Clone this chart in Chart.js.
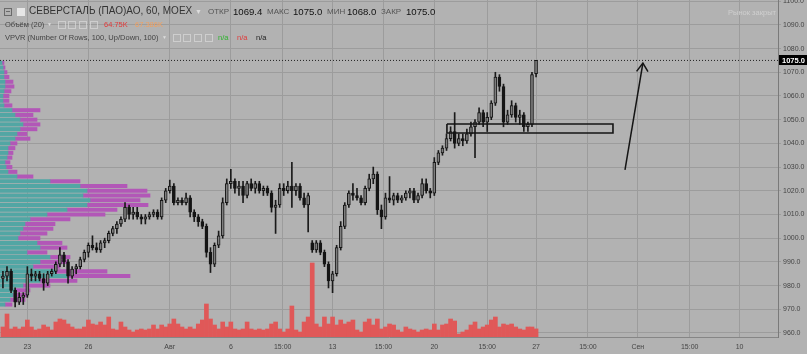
<!DOCTYPE html>
<html><head><meta charset="utf-8">
<script src="https://cdn.jsdelivr.net/npm/chart.js@4.4.1/dist/chart.umd.min.js"></script>
<style>
html,body{margin:0;padding:0;background:#b2b2b2;}
#wrap{position:relative;width:807px;height:354px;overflow:hidden;font-family:'Liberation Sans',Arial,sans-serif;}
canvas{position:absolute;left:0;top:0;}
.t{position:absolute;white-space:nowrap;line-height:1;}
.ico{position:absolute;width:8px;height:8px;border:1px solid rgba(215,215,215,0.75);box-sizing:border-box;}
</style></head><body>
<div id="wrap">
<canvas id="c" width="807" height="354"></canvas>
<div class="ico" style="left:4px;top:8px;border-color:#6a6a6a;"></div>
<div style="position:absolute;left:6px;top:11px;width:4px;height:1px;background:#6a6a6a;"></div>
<div style="position:absolute;left:17px;top:8px;width:8px;height:8px;background:#e6e6e6;"></div>
<div class="t" style="left:29px;top:6px;font-size:10px;color:#333;">СЕВЕРСТАЛЬ (ПАО)АО, 60, MOEX</div>
<div class="t" style="left:195px;top:8px;font-size:7px;color:#dcdcdc;">▼</div>
<div class="t" style="left:208px;top:8px;font-size:8px;color:#555;">ОТКР</div>
<div class="t" style="left:233px;top:7px;font-size:9.6px;color:#111;">1069.4</div>
<div class="t" style="left:267px;top:8px;font-size:8px;color:#555;">МАКС</div>
<div class="t" style="left:293px;top:7px;font-size:9.6px;color:#111;">1075.0</div>
<div class="t" style="left:327px;top:8px;font-size:8px;color:#555;">МИН</div>
<div class="t" style="left:347px;top:7px;font-size:9.6px;color:#111;">1068.0</div>
<div class="t" style="left:381px;top:8px;font-size:8px;color:#555;">ЗАКР</div>
<div class="t" style="left:406px;top:7px;font-size:9.6px;color:#111;">1075.0</div>

<div class="t" style="left:5px;top:21px;font-size:7.5px;color:#444;">Объём (20)</div>
<div class="t" style="left:47px;top:22px;font-size:5px;color:#dcdcdc;">▼</div>
<div class="ico" style="left:58px;top:21px;"></div>
<div class="ico" style="left:68px;top:21px;"></div>
<div class="ico" style="left:79px;top:21px;"></div>
<div class="ico" style="left:90px;top:21px;"></div>
<div class="t" style="left:104px;top:21px;font-size:7.5px;color:#e03a3a;">64.75K</div>
<div class="t" style="left:135px;top:21px;font-size:7.5px;color:#f0a060;">67.386K</div>

<div class="t" style="left:5px;top:34px;font-size:7.5px;color:#444;">VPVR (Number Of Rows, 100, Up/Down, 100)</div>
<div class="t" style="left:162px;top:35px;font-size:5px;color:#dcdcdc;">▼</div>
<div class="ico" style="left:173px;top:34px;"></div>
<div class="ico" style="left:183px;top:34px;"></div>
<div class="ico" style="left:194px;top:34px;"></div>
<div class="ico" style="left:205px;top:34px;"></div>
<div class="t" style="left:218px;top:34px;font-size:7.5px;color:#2fb52f;">n/a</div>
<div class="t" style="left:237px;top:34px;font-size:7.5px;color:#e03a3a;">n/a</div>
<div class="t" style="left:256px;top:34px;font-size:7.5px;color:#222;">n/a</div>

<div class="t" style="left:728px;top:9px;font-size:7.5px;color:#cfcfcf;">Рынок закрыт</div>
</div>
<script>
// ---- time axis ----
const barsPerDay = 5;
const firstBarDay = -0.2;           // day index of the first bar (Jul 20 = 0)
const xMin = -0.344, xMax = 37.89;  // visible day range
const xTickPos = [1, 4, 8, 11, 13.55, 16, 18.5, 21, 23.6, 26, 28.55, 31, 33.55, 36];
const xTickLabels = ['23','26','Авг','6','15:00','13','15:00','20','15:00','27','15:00','Сен','15:00','10'];

// ---- price axis ----
const yMin = 958.3, yMax = 1100.5;
const yTicks = [960,970,980,990,1000,1010,1020,1030,1040,1050,1060,1070,1080,1090,1100];

// ---- hourly candles ----
const opens = [983,984,986,978,973,975,976,985,984,985, 983,981,985,986,989,993,990,984,987,988,
  991,994,997,996,995,998,999,1002,1004,1006, 1008,1013,1010,1011,1009,1008,1009,1010,1011,1009,
  1016,1020,1022,1015,1016,1015,1017,1011,1009,1007, 1005,994,989,997,1001,1015,1023,1024,1021,1022,
  1018,1023,1021,1023,1020,1021,1019,1013,1014,1021, 1020,1022,1020,1022,1017,1014,998,995,998,994,
  989,982,985,996,1005,1014,1019,1018,1017,1015, 1021,1025,1027,1012,1009,1017,1016,1018,1016,1017,
  1019,1020,1016,1018,1023,1020,1019,1032,1036,1038, 1042,1045,1040,1042,1041,1044,1047,1049,1053,1049,
  1051,1057,1068,1064,1049,1052,1056,1051,1052,1047, 1048,1069.4];
const highs = [986,988,987,979,977,977,988,987,986,986, 985,986,987,990,996,994,991,988,989,992,
  995,998,1001,998,999,1000,1003,1005,1007,1009, 1015,1014,1013,1013,1010,1010,1011,1012,1012,1017,
  1021,1024.5,1023,1017,1017,1019,1018,1012,1010,1008, 1006,996,998,1003,1017,1025,1029,1025,1024,1024,
  1024,1025,1024,1024,1022,1022,1020,1016,1023,1023, 1024,1032,1023,1023,1019,1019,999,999,999,995,
  990,986,997,1007,1015,1020,1023,1021,1018,1022, 1027,1030,1028,1014,1019,1026,1019,1019,1018,1020,
  1021,1021,1019,1025,1025,1021,1034,1037,1039,1044, 1047,1053,1044,1044,1046,1049,1050,1055,1054,1053,
  1058,1070,1069,1065,1054,1058,1057,1054,1053,1049, 1070,1075];
const lows = [979,982,977,971,972,972,975,982,982,982, 978,980,984,985,988,988,981,983,985,987,
  990,992,995,994,994,996,998,1001,1002,1005, 1007,1008,1008,1008,1006,1006,1008,1009,1008,1008,
  1015,1019,1014,1014,1014,1014,1009,1007,1005,1004, 992,985.5,988,996,1000,1014,1021,1019,1018,1015,
  1017,1020,1019,1019,1018,1018,1011,1002,1013,1018, 1019,1013,1018,1016,1013,1002.6,994,994,993,988,
  979,977,984,995,1004,1013,1016,1016,1014,1014, 1020,1023,1010,1004,1008,1015,1014,1015,1015,1016,
  1017,1015,1015,1017,1019,1017,1018,1031,1035,1037, 1041,1038,1039,1039,1040,1043,1034,1048,1047,1045,
  1050,1056,1062,1047,1048,1051,1049,1048,1045,1045, 1047,1068];
const closes = [984,986,978,973,975,976,985,984,985,983, 981,985,986,989,993,990,984,987,988,991,
  994,997,996,995,998,999,1002,1004,1006,1008, 1013,1010,1011,1009,1008,1009,1010,1011,1009,1016,
  1020,1022,1015,1016,1015,1017,1011,1009,1007,1005, 994,989,997,1001,1015,1023,1024,1021,1022,1018,
  1023,1021,1023,1020,1021,1019,1013,1014,1021,1020, 1022,1020,1022,1017,1014,1018,995,998,994,989,
  982,985,996,1005,1014,1019,1018,1017,1015,1021, 1025,1027,1012,1009,1017,1016,1018,1016,1017,1019,
  1020,1016,1018,1023,1020,1019,1032,1036,1038,1042, 1045,1040,1042,1041,1044,1047,1049,1053,1049,1051,
  1057,1068,1064,1049,1052,1056,1051,1052,1047,1048, 1069,1075];
// volume, thousands
const volumes = [80,184,64,80,64,80,136,80,56,64, 96,80,56,120,144,136,104,80,64,64,
  80,136,104,96,120,96,160,64,56,120, 80,56,40,56,64,56,64,96,64,96,
  80,104,144,104,80,64,80,64,104,136, 264,144,96,64,120,80,120,64,56,64,
  120,64,56,64,56,64,104,120,64,40, 64,248,56,40,120,160,592,104,80,160,
  104,160,96,136,104,120,136,56,40,120, 144,96,144,64,80,104,96,56,40,80,
  64,56,40,56,64,56,104,56,96,104, 144,128,24,40,56,96,120,64,80,96,
  136,160,80,104,96,104,80,64,56,80, 80,64.75];
const volAxisMax = 2696;

// ---- VPVR profile (price rows, up / down volume) ----
const vpvrPrice = [1074,1072,1070,1068,1066,1064,1062,1060,1058,1056,1054,1052,1050,1048,1046,1044,1042,1040,1038,1036,
  1034,1032,1030,1028,1026,1024,1022,1020,1018,1016,1014,1012,1010,1008,1006,1004,1002,1000,998,996,
  994,992,990,988,986,984,982,980,978,976,974,972];
const vpvrUp = [2,3,4,4,5,5,4,3,3,4,12,15,20,23,20,17,15,10,8,8,
  7,5,6,8,17,50,80,87,83,90,87,67,47,30,25,23,20,18,37,40,
  27,50,40,33,55,67,40,23,15,13,10,5];
const vpvrDown = [2,2,3,5,8,9,7,6,6,8,28,18,17,17,17,10,15,7,7,5,
  5,5,6,9,16,30,47,60,67,50,61,50,58,40,30,30,27,22,25,27,
  20,20,27,27,52,63,37,27,15,14,15,7];
const vpvrAxisMax = 778;

// ---- drawings ----
const boxPts = [[21.62,1048.2],[29.78,1048.2],[29.78,1044.4],[21.62,1044.4],[21.62,1048.2]];
const arrowShaft = [[30.37,1028.8],[31.25,1073.9]];
const arrowHead = [[30.94,1070.4],[31.25,1073.9],[31.5,1070.3]];
const lastPrice = closes[closes.length - 1];

const barX = opens.map((_, i) => firstBarDay + i / barsPerDay);
const pts = a => a.map(p => ({x: p[0], y: p[1]}));

const bgPlugin = {
  id: 'bg',
  beforeDraw(chart) {
    const ctx = chart.ctx;
    ctx.save(); ctx.fillStyle = '#b2b2b2'; ctx.fillRect(0, 0, chart.width, chart.height); ctx.restore();
  },
  afterDraw(chart) {
    const ctx = chart.ctx, y = chart.scales.y.getPixelForValue(lastPrice);
    const left = chart.chartArea.right + 1;
    ctx.save();
    ctx.fillStyle = '#000';
    ctx.fillRect(left, Math.round(y) - 5, chart.width - left, 10);
    ctx.fillStyle = '#fff';
    ctx.font = 'bold 7.5px "Liberation Sans", Arial, sans-serif';
    ctx.textBaseline = 'middle';
    ctx.fillText(lastPrice.toFixed(1), left + 3, Math.round(y) + 0.5);
    ctx.restore();
  }
};

Chart.defaults.font.family = '"Liberation Sans", Arial, sans-serif';
Chart.defaults.font.size = 7;
Chart.defaults.color = '#454545';

new Chart(document.getElementById('c'), {
  type: 'bar',
  data: {
    datasets: [
      { label: 'vpvrDown', indexAxis: 'y', xAxisID: 'xv', yAxisID: 'y', grouped: false, order: 10,
        data: vpvrPrice.map((p, k) => ({y: p, x: [vpvrUp[k], vpvrUp[k] + vpvrDown[k]]})),
        backgroundColor: '#b257b7', barThickness: 3.4 },
      { label: 'vpvrUp', indexAxis: 'y', xAxisID: 'xv', yAxisID: 'y', grouped: false, order: 9,
        data: vpvrPrice.map((p, k) => ({y: p, x: [0, vpvrUp[k]]})),
        backgroundColor: '#52a6a4', barThickness: 3.4 },
      { label: 'volume', xAxisID: 'x', yAxisID: 'yv', grouped: false, order: 8,
        data: barX.map((t, i) => ({x: t, y: volumes[i]})),
        backgroundColor: '#e05858', barThickness: 4 },
      { label: 'wicks', xAxisID: 'x', yAxisID: 'y', grouped: false, order: 7,
        data: barX.map((t, i) => ({x: t, y: [lows[i], highs[i]]})),
        backgroundColor: '#1a1a1a', barThickness: 1 },
      { label: 'bodies', xAxisID: 'x', yAxisID: 'y', grouped: false, order: 6,
        data: barX.map((t, i) => ({x: t, y: [opens[i], closes[i]]})),
        backgroundColor: opens.map((o, i) => closes[i] >= o ? '#7e7e7e' : '#151515'),
        borderColor: '#151515', borderWidth: 1, borderSkipped: false, barThickness: 3, minBarLength: 1 },
      { type: 'line', label: 'box', xAxisID: 'x', yAxisID: 'y', order: 2, data: pts(boxPts),
        borderColor: '#141414', borderWidth: 1.6, pointRadius: 0, fill: false, tension: 0 },
      { type: 'line', label: 'arrow', xAxisID: 'x', yAxisID: 'y', order: 2, data: pts(arrowShaft),
        borderColor: '#141414', borderWidth: 1.5, pointRadius: 0, fill: false, tension: 0 },
      { type: 'line', label: 'arrowHead', xAxisID: 'x', yAxisID: 'y', order: 2, data: pts(arrowHead),
        borderColor: '#141414', borderWidth: 1.5, pointRadius: 0, fill: false, tension: 0 },
      { type: 'line', label: 'last', xAxisID: 'x', yAxisID: 'y', order: 1,
        data: [{x: xMin, y: lastPrice}, {x: xMax, y: lastPrice}],
        borderColor: '#222', borderWidth: 1, borderDash: [1, 2], pointRadius: 0, fill: false }
    ]
  },
  options: {
    responsive: false, animation: false, devicePixelRatio: 1,
    layout: { padding: 0 },
    plugins: { legend: { display: false }, tooltip: { enabled: false } },
    scales: {
      x: { type: 'linear', position: 'bottom', min: xMin, max: xMax, offset: false,
        afterBuildTicks: s => { s.ticks = xTickPos.map(v => ({value: v})); },
        afterFit: s => { s.height = 17; s.paddingLeft = 0; s.paddingRight = 0; },
        ticks: { autoSkip: false, maxRotation: 0, padding: 6, color: '#454545',
          callback: (v, i) => xTickLabels[i] },
        grid: { color: '#9c9c9c', drawTicks: false, offset: false },
        border: { display: true, color: '#868686' } },
      y: { type: 'linear', position: 'right', min: yMin, max: yMax, offset: false,
        afterBuildTicks: s => { s.ticks = yTicks.map(v => ({value: v})); },
        afterFit: s => { s.width = 29; s.paddingTop = 0; s.paddingBottom = 0; },
        ticks: { padding: 2, color: '#454545', callback: v => Number(v).toFixed(1) },
        grid: { color: '#9c9c9c', tickLength: 3, offset: false },
        border: { display: true, color: '#7a7a7a' } },
      xv: { type: 'linear', axis: 'x', display: false, min: 0, max: vpvrAxisMax, offset: false },
      yv: { type: 'linear', axis: 'y', display: false, min: 0, max: volAxisMax, offset: false }
    }
  },
  plugins: [bgPlugin]
});
</script>
</body></html>
